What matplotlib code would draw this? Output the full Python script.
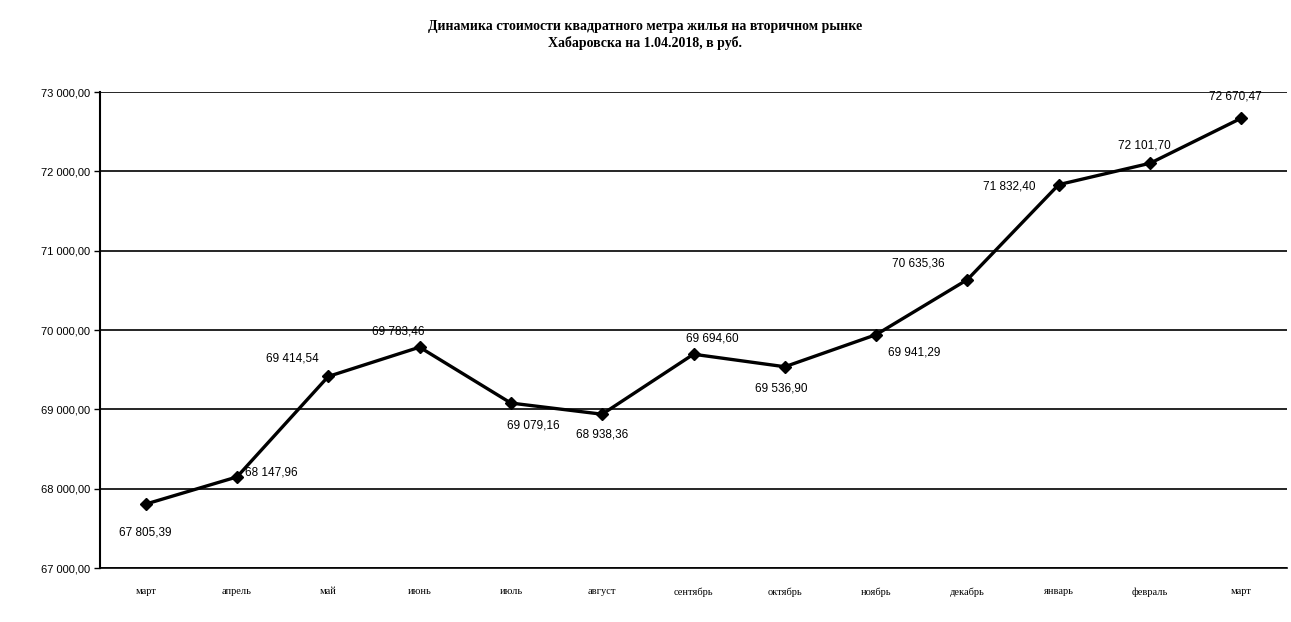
import matplotlib
matplotlib.use("Agg")
import matplotlib.pyplot as plt
from matplotlib.ticker import FuncFormatter, MultipleLocator

months = ["март", "апрель", "май", "июнь", "июль", "август", "сентябрь",
          "октябрь", "ноябрь", "декабрь", "январь", "февраль", "март"]
prices = [67805.39, 68147.96, 69414.54, 69783.46, 69079.16, 68938.36, 69694.60,
          69536.90, 69941.29, 70635.36, 71832.40, 72101.70, 72670.47]
label_text = ["67 805,39", "68 147,96", "69 414,54", "69 783,46", "69 079,16",
              "68 938,36", "69 694,60", "69 536,90", "69 941,29", "70 635,36",
              "71 832,40", "72 101,70", "72 670,47"]
# label offsets (pixels) relative to the point, with horizontal alignment
offsets = [(0, -28, "center"), (8, 4, "left"), (-62, 18, "left"), (-48, 16, "left"),
           (-4, -22, "left"), (-26, -20, "left"), (-8, 16, "left"), (-30, -22, "left"),
           (12, -18, "left"), (-75, 16, "left"), (-76, -2, "left"), (-32, 18, "left"),
           (-32, 22, "left")]

W, H = 1291, 622
fig = plt.figure(figsize=(W / 100, H / 100), dpi=100)
ax = fig.add_axes([100 / W, 1 - 568 / H, (1287 - 100) / W, (568 - 92) / H])

x = list(range(len(months)))
ax.plot(x, prices, color="black", lw=2.4, marker="D", ms=6.5,
        markerfacecolor="black", markeredgecolor="black", zorder=3)

for xi, yi, txt, (dx, dy, ha) in zip(x, prices, label_text, offsets):
    ax.annotate(txt, (xi, yi), xytext=(dx, dy), textcoords="offset pixels",
                ha=ha, va="center", fontsize=8.5, family="Liberation Sans",
                color="black")

ax.set_xlim(-0.5, len(months) - 0.5)
ax.set_ylim(67000, 73000)
ax.yaxis.set_major_locator(MultipleLocator(1000))
ax.yaxis.set_major_formatter(FuncFormatter(
    lambda v, p: f"{v:,.2f}".replace(",", " ").replace(".", ",")))
ax.set_xticks(x)
ax.set_xticklabels(months, fontsize=7.5, family="Liberation Serif")
ax.tick_params(axis="y", labelsize=8, length=4, width=1, pad=3, direction="out")
ax.tick_params(axis="x", length=0, pad=14)
for lbl in ax.get_yticklabels():
    lbl.set_family("Liberation Sans")

ax.grid(axis="y", color="black", lw=1.2)
ax.set_axisbelow(True)
for s in ["top", "right"]:
    ax.spines[s].set_visible(False)
ax.spines["left"].set_linewidth(1.5)
ax.spines["bottom"].set_linewidth(1.2)

fig.text(0.5, 1 - 35 / H,
         "Динамика стоимости квадратного метра жилья на вторичном рынке\n"
         "Хабаровска на 1.04.2018, в руб.",
         ha="center", va="center", fontsize=10, fontweight="bold",
         family="Liberation Serif", linespacing=1.2)

fig.savefig("out.png", dpi=100, facecolor="white")
